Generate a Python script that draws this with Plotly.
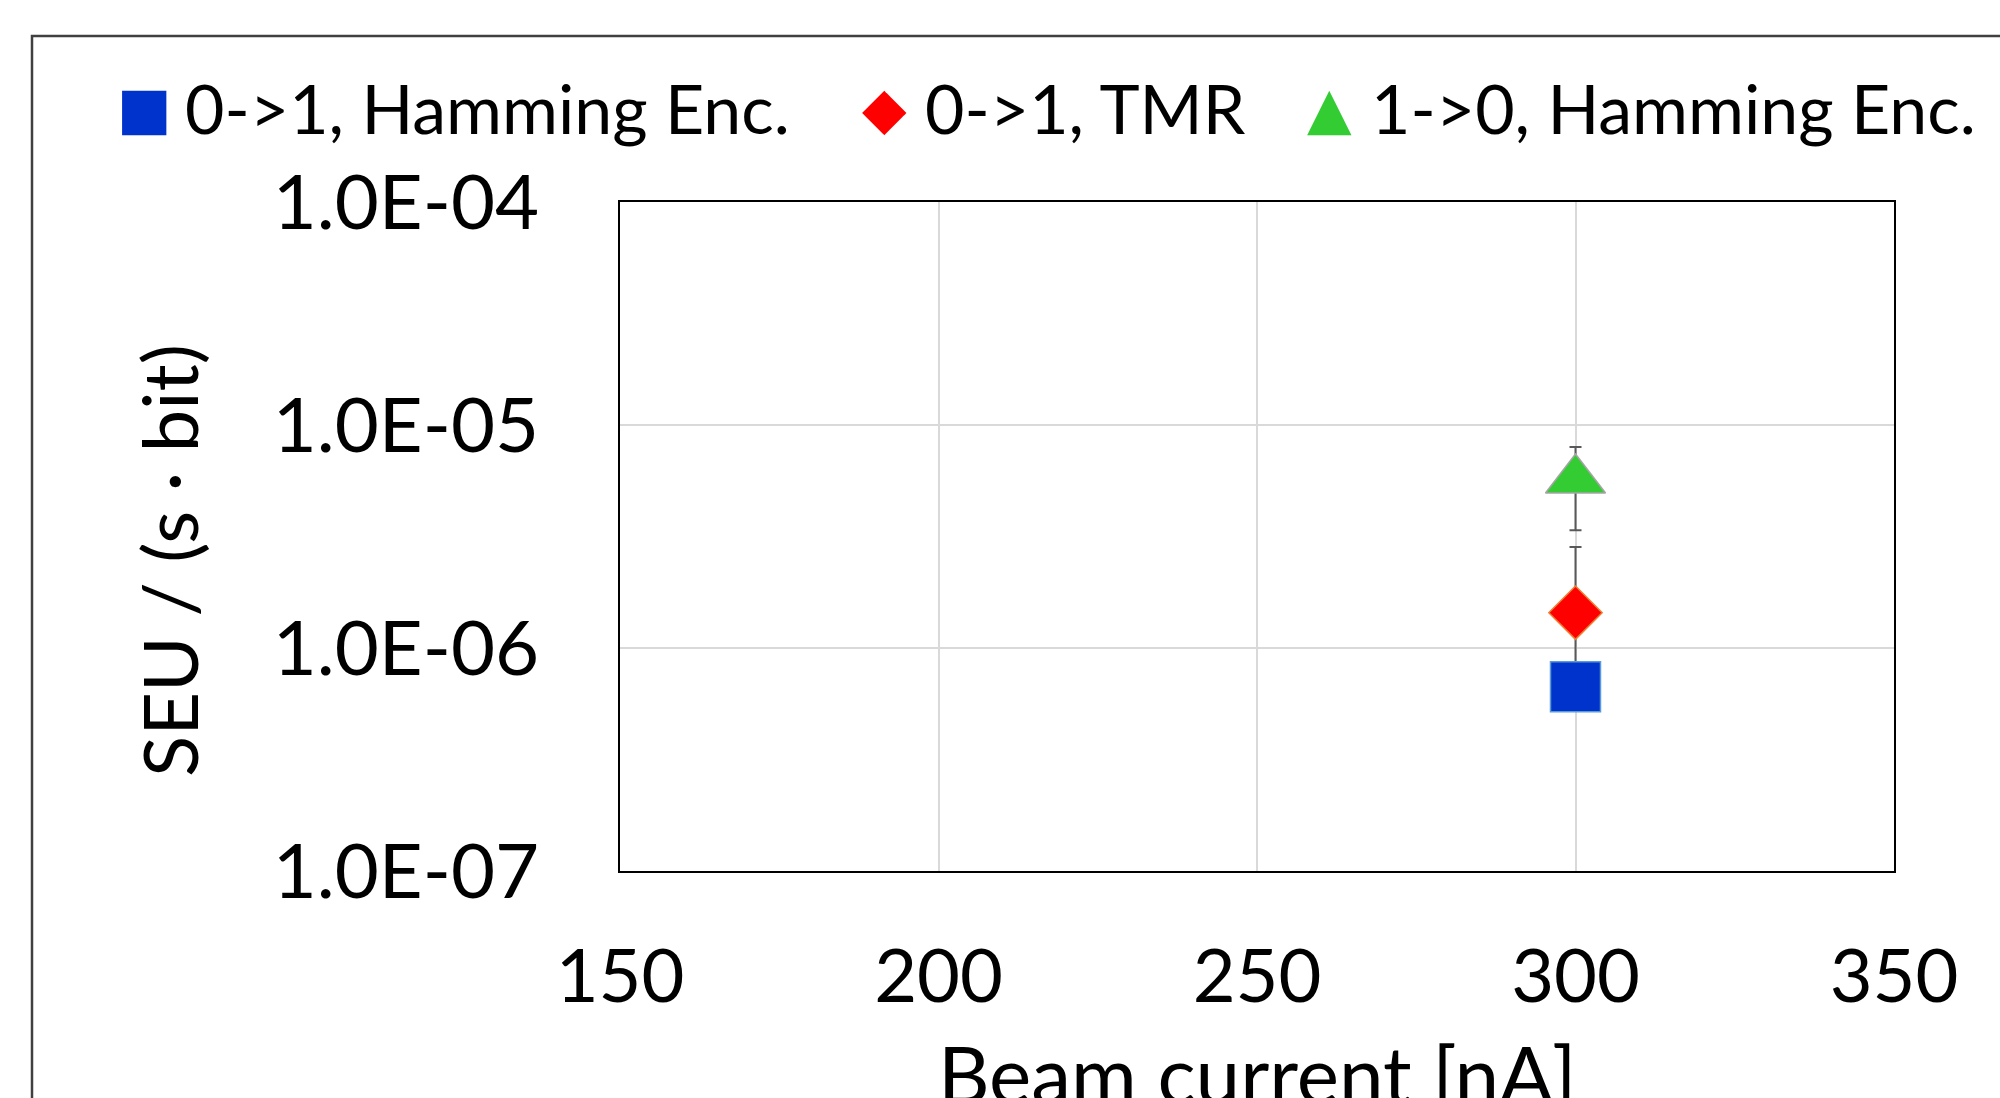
import plotly.graph_objects as go

# ---- data ----
series_names = ["0->1, Hamming Enc.", "0->1, TMR", "1->0, Hamming Enc."]
beam_current = [300]
seu_hamming_01 = [6.7e-7]
seu_tmr_01 = [1.44e-6]
seu_tmr_01_err_plus = [1.4e-6]
seu_tmr_01_err_minus = [0.8e-6]
seu_hamming_10 = [5.67e-6]
seu_hamming_10_err = [2.3e-6]
x_ticks = [150, 200, 250, 300, 350]
y_ticks = [1e-7, 1e-6, 1e-5, 1e-4]
y_tick_labels = ["1.0E-07", "1.0E-06", "1.0E-05", "1.0E-04"]

W, H = 2000, 1098
L, R, T, B = 620, 1894, 202, 871


def px(x):
    return (x - L) / (R - L)


def py(y):
    return (B - y) / (B - T)


FONT = "Lato"
err_style = dict(color="#595959", thickness=2, width=6)

fig = go.Figure()
fig.add_trace(go.Scatter(
    x=beam_current, y=seu_tmr_01, mode="markers", name=series_names[1],
    marker=dict(symbol="diamond", size=41, color="#FF0000",
                line=dict(color="#ED7D31", width=1.5)),
    error_y=dict(type="data", array=seu_tmr_01_err_plus,
                 arrayminus=seu_tmr_01_err_minus, symmetric=False, **err_style),
))
fig.add_trace(go.Scatter(
    x=beam_current, y=seu_hamming_01, mode="markers", name=series_names[0],
    marker=dict(symbol="square", size=50, color="#0033CC",
                line=dict(color="#5B9BD5", width=1.5)),
))
fig.add_trace(go.Scatter(
    x=beam_current, y=seu_hamming_10, mode="markers", name=series_names[2],
    marker=dict(symbol="triangle-up", size=52, color="#33CC33",
                line=dict(color="#A5A5A5", width=1.5)),
    error_y=dict(type="data", array=seu_hamming_10_err, **err_style),
))

fig.update_layout(
    width=W, height=H,
    margin=dict(l=L, r=W - R, t=T, b=H - B),
    paper_bgcolor="white", plot_bgcolor="white",
    showlegend=False,
    font=dict(family=FONT, color="black"),
)
fig.update_xaxes(
    range=[150, 350], tickvals=x_ticks, ticks="",
    tickfont=dict(family=FONT, size=74, color="black"),
    ticklabelstandoff=40,
    showgrid=True, gridcolor="#D9D9D9", gridwidth=1.5,
    showline=True, linecolor="black", linewidth=1.5, mirror=True,
    zeroline=False,
)
fig.update_yaxes(
    type="log", range=[-7, -4], tickvals=y_ticks, ticktext=y_tick_labels,
    ticks="", tickfont=dict(family=FONT, size=76, color="black"),
    ticklabelstandoff=64,
    showgrid=True, gridcolor="#D9D9D9", gridwidth=1.5,
    showline=True, linecolor="black", linewidth=1.5, mirror=True,
    zeroline=False,
)

# outer chart border
fig.add_shape(type="rect", xref="paper", yref="paper",
              x0=px(32), x1=px(2020), y0=py(1120), y1=py(36),
              line=dict(color="#404040", width=2.5), layer="below")

# axis titles
fig.add_annotation(text="SEU / (s · bit)", xref="paper", yref="paper",
                   x=px(168), y=py(561), textangle=-90, showarrow=False,
                   xanchor="center", yanchor="middle",
                   font=dict(family=FONT, size=76, color="black"))
fig.add_annotation(text="Beam current [nA]", xref="paper", yref="paper",
                   x=px(1257), y=py(1073), showarrow=False,
                   xanchor="center", yanchor="middle",
                   font=dict(family=FONT, size=80, color="black"))

# legend (symbols + labels)
leg_y = py(108)
legend_items = [
    ("\u25A0", "#0033CC", 115, 183, series_names[0]),
    ("\u25C6", "#FF0000", 860, 923, series_names[1]),
    ("\u25B2", "#33CC33", 1305, 1369, series_names[2]),
]
for glyph, col, sx, tx, label in legend_items:
    fig.add_annotation(text=glyph, xref="paper", yref="paper", x=px(sx), y=leg_y,
                       showarrow=False, xanchor="left", yanchor="middle",
                       font=dict(family="DejaVu Sans", size=58, color=col))
    fig.add_annotation(text=label, xref="paper", yref="paper", x=px(tx), y=leg_y,
                       showarrow=False, xanchor="left", yanchor="middle",
                       font=dict(family=FONT, size=68, color="black"))

fig.write_html("out.html")
